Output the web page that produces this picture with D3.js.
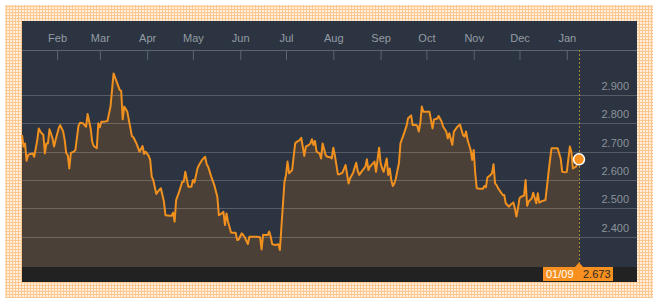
<!DOCTYPE html>
<html>
<head>
<meta charset="utf-8">
<script src="https://cdn.jsdelivr.net/npm/d3@7/dist/d3.min.js"></script>
<style>
  html, body { margin: 0; padding: 0; background: #ffffff; }
  svg { display: block; font-family: "Liberation Sans", Arial, sans-serif; }
</style>
</head>
<body>
<svg id="chart" width="660" height="304"></svg>
<script>
// ---- data ----
const dates = [
  "2015-01-09","2015-01-10","2015-01-11","2015-01-12","2015-01-13","2015-01-14","2015-01-16","2015-01-17","2015-01-19","2015-01-20",
  "2015-01-21","2015-01-23","2015-01-24","2015-01-25","2015-01-26","2015-01-27","2015-01-29","2015-01-30","2015-01-31","2015-02-02",
  "2015-02-03","2015-02-05","2015-02-06","2015-02-07","2015-02-08","2015-02-09","2015-02-10","2015-02-12","2015-02-13","2015-02-15",
  "2015-02-16","2015-02-18","2015-02-20","2015-02-21","2015-02-23","2015-02-24","2015-02-25","2015-02-27","2015-02-28","2015-03-01",
  "2015-03-02","2015-03-04","2015-03-06","2015-03-08","2015-03-10","2015-03-12","2015-03-14","2015-03-15","2015-03-16","2015-03-17",
  "2015-03-19","2015-03-20","2015-03-22","2015-03-23","2015-03-25","2015-03-27","2015-03-29","2015-03-30","2015-03-31","2015-04-02",
  "2015-04-03","2015-04-04","2015-04-05","2015-04-07","2015-04-08","2015-04-10","2015-04-12","2015-04-13","2015-04-16","2015-04-17",
  "2015-04-18","2015-04-19","2015-04-20","2015-04-22","2015-04-24","2015-04-25","2015-04-26","2015-04-28","2015-04-30","2015-05-01",
  "2015-05-02","2015-05-04","2015-05-05","2015-05-07","2015-05-09","2015-05-10","2015-05-11","2015-05-13","2015-05-15","2015-05-17",
  "2015-05-18","2015-05-20","2015-05-21","2015-05-22","2015-05-23","2015-05-24","2015-05-26","2015-05-27","2015-05-29","2015-05-30",
  "2015-05-31","2015-06-02","2015-06-03","2015-06-04","2015-06-06","2015-06-07","2015-06-10","2015-06-12","2015-06-14","2015-06-15",
  "2015-06-16","2015-06-17","2015-06-19","2015-06-20","2015-06-21","2015-06-22","2015-06-24","2015-06-26","2015-06-27","2015-06-28",
  "2015-06-30","2015-07-01","2015-07-02","2015-07-03","2015-07-05","2015-07-07","2015-07-08","2015-07-10","2015-07-11","2015-07-13",
  "2015-07-14","2015-07-16","2015-07-17","2015-07-18","2015-07-19","2015-07-20","2015-07-21","2015-07-23","2015-07-24","2015-07-25",
  "2015-07-27","2015-07-28","2015-07-30","2015-07-31","2015-08-01","2015-08-02","2015-08-04","2015-08-05","2015-08-07","2015-08-09",
  "2015-08-11","2015-08-12","2015-08-14","2015-08-16","2015-08-17","2015-08-18","2015-08-20","2015-08-22","2015-08-23","2015-08-24",
  "2015-08-25","2015-08-27","2015-08-28","2015-08-29","2015-08-30","2015-08-31","2015-09-01","2015-09-02","2015-09-03","2015-09-05",
  "2015-09-06","2015-09-07","2015-09-08","2015-09-09","2015-09-10","2015-09-11","2015-09-13","2015-09-14","2015-09-16","2015-09-18",
  "2015-09-19","2015-09-21","2015-09-22","2015-09-24","2015-09-25","2015-09-26","2015-09-27","2015-09-28","2015-09-29","2015-10-01",
  "2015-10-03","2015-10-05","2015-10-06","2015-10-08","2015-10-09","2015-10-11","2015-10-12","2015-10-14","2015-10-15","2015-10-16",
  "2015-10-18","2015-10-19","2015-10-21","2015-10-23","2015-10-25","2015-10-26","2015-10-27","2015-10-28","2015-10-30","2015-10-31",
  "2015-11-01","2015-11-02","2015-11-03","2015-11-05","2015-11-07","2015-11-08","2015-11-09","2015-11-10","2015-11-12","2015-11-13",
  "2015-11-14","2015-11-15","2015-11-16","2015-11-17","2015-11-19","2015-11-20","2015-11-21","2015-11-22","2015-11-24","2015-11-25",
  "2015-11-27","2015-11-28","2015-11-29","2015-11-30","2015-12-01","2015-12-02","2015-12-04","2015-12-05","2015-12-06","2015-12-07",
  "2015-12-09","2015-12-10","2015-12-12","2015-12-13","2015-12-14","2015-12-16","2015-12-18","2015-12-20","2015-12-21","2015-12-22",
  "2015-12-24","2015-12-26","2015-12-28","2015-12-29","2015-12-31","2016-01-01","2016-01-03","2016-01-04","2016-01-05","2016-01-07",
  "2016-01-09"
];
const values = [
  2.759,2.718,2.729,2.668,2.688,2.691,2.694,2.682,2.741,2.782,
  2.771,2.759,2.694,2.729,2.729,2.779,2.747,2.718,2.741,2.782,
  2.794,2.771,2.741,2.694,2.688,2.641,2.696,2.700,2.706,2.791,
  2.802,2.800,2.788,2.833,2.782,2.735,2.720,2.712,2.800,2.786,
  2.806,2.806,2.808,2.859,2.976,2.947,2.918,2.915,2.814,2.859,
  2.841,2.812,2.755,2.751,2.729,2.700,2.720,2.692,2.700,2.685,
  2.671,2.612,2.600,2.551,2.559,2.571,2.524,2.476,2.474,2.474,
  2.485,2.453,2.529,2.559,2.594,2.594,2.629,2.576,2.576,2.600,
  2.591,2.641,2.653,2.671,2.682,2.656,2.647,2.612,2.582,2.541,
  2.476,2.482,2.488,2.441,2.482,2.453,2.415,2.414,2.414,2.388,
  2.390,2.412,2.406,2.398,2.374,2.400,2.400,2.400,2.398,2.355,
  2.407,2.406,2.406,2.418,2.400,2.373,2.371,2.373,2.353,2.435,
  2.594,2.618,2.665,2.624,2.635,2.729,2.735,2.741,2.749,2.685,
  2.718,2.724,2.729,2.744,2.724,2.738,2.700,2.694,2.676,2.729,
  2.688,2.682,2.680,2.676,2.714,2.688,2.620,2.620,2.626,2.653,
  2.588,2.606,2.626,2.661,2.632,2.618,2.633,2.647,2.673,2.635,
  2.647,2.659,2.665,2.629,2.673,2.714,2.659,2.641,2.629,2.676,
  2.618,2.641,2.600,2.579,2.588,2.606,2.659,2.729,2.759,2.791,
  2.818,2.828,2.794,2.794,2.792,2.771,2.800,2.859,2.841,2.841,
  2.841,2.782,2.814,2.816,2.826,2.806,2.788,2.771,2.747,2.765,
  2.724,2.771,2.786,2.796,2.759,2.753,2.771,2.741,2.706,2.671,
  2.706,2.624,2.571,2.569,2.569,2.579,2.574,2.609,2.618,2.624,
  2.656,2.588,2.582,2.571,2.555,2.547,2.547,2.518,2.506,2.512,
  2.521,2.500,2.471,2.500,2.535,2.541,2.545,2.600,2.509,2.524,
  2.535,2.555,2.518,2.553,2.520,2.526,2.529,2.624,2.671,2.712,
  2.712,2.712,2.676,2.629,2.627,2.629,2.718,2.700,2.641,2.647,
  2.673
];
const yTicks = [2.4, 2.5, 2.6, 2.7, 2.8, 2.9];
const lastLabelDate = "01/09";
const lastLabelValue = "2.673";

// ---- layout ----
const panel = { x0: 22, y0: 21, x1: 637, y1: 282 };
const axisY = 50, plotBottom = 267;
const parse = d3.timeParse("%Y-%m-%d");
const data = dates.map((d, i) => ({ date: parse(d), value: values[i] }));
const lastPoint = data[data.length - 1];

const x = d3.scaleTime()
  .domain([data[0].date, lastPoint.date])
  .range([22, 579]);
const y = d3.scaleLinear()
  .domain([2.4, 2.9])
  .range([236.7, 95]);

const svg = d3.select("#chart");

// background pattern frame
const defs = svg.append("defs");
const pat = defs.append("pattern")
  .attr("id", "grid").attr("width", 3).attr("height", 3)
  .attr("patternUnits", "userSpaceOnUse");
pat.append("rect").attr("width", 3).attr("height", 3).attr("fill", "#fbc890");
pat.append("rect").attr("x", 1).attr("y", 1).attr("width", 2).attr("height", 2).attr("fill", "#ffeedd");
svg.append("rect").attr("x", 5).attr("y", 5).attr("width", 648).attr("height", 293)
  .attr("fill", "url(#grid)");

// panel
svg.append("rect")
  .attr("x", panel.x0).attr("y", panel.y0)
  .attr("width", panel.x1 - panel.x0).attr("height", panel.y1 - panel.y0)
  .attr("fill", "#2b3440");

// footer bar
svg.append("rect")
  .attr("x", panel.x0).attr("y", plotBottom)
  .attr("width", panel.x1 - panel.x0).attr("height", panel.y1 - plotBottom)
  .attr("fill", "#222222");

// area
const area = d3.area()
  .x(d => x(d.date))
  .y0(plotBottom)
  .y1(d => y(d.value));
svg.append("path").datum(data)
  .attr("d", area)
  .attr("fill", "#4a4038");

// gridlines
svg.append("g").selectAll("line").data(yTicks).join("line")
  .attr("x1", panel.x0).attr("x2", panel.x1)
  .attr("y1", d => Math.round(y(d)) + 0.5).attr("y2", d => Math.round(y(d)) + 0.5)
  .attr("stroke", "#ffffff").attr("stroke-opacity", 0.2).attr("stroke-width", 1);

// y labels
svg.append("g").selectAll("text").data(yTicks).join("text")
  .attr("x", 629).attr("y", d => y(d) - 5)
  .attr("text-anchor", "end")
  .attr("fill", "#8b939c")
  .attr("font-size", 11)
  .text(d => d3.format(".3f")(d));

// top axis
const xAxis = d3.axisBottom(x)
  .ticks(d3.timeMonth.every(1))
  .tickFormat(d3.timeFormat("%b"))
  .tickSize(10)
  .tickSizeOuter(0);
const gx = svg.append("g").attr("transform", `translate(0,${axisY})`).call(xAxis);
gx.select(".domain").remove();
gx.selectAll(".tick line").attr("stroke", "#5d656e");
gx.selectAll(".tick text")
  .attr("y", -8).attr("dy", 0)
  .attr("fill", "#959ca5")
  .attr("font-size", 11)
  .attr("font-family", "Liberation Sans, Arial, sans-serif");
svg.append("line")
  .attr("x1", panel.x0).attr("x2", panel.x1)
  .attr("y1", axisY + 0.5).attr("y2", axisY + 0.5)
  .attr("stroke", "#5d656e");

// line
const line = d3.line()
  .x(d => x(d.date))
  .y(d => y(d.value));
svg.append("path").datum(data)
  .attr("d", line)
  .attr("fill", "none")
  .attr("stroke", "#f0901e")
  .attr("stroke-width", 2)
  .attr("stroke-linejoin", "round");

// crosshair
const cx = x(lastPoint.date);
svg.append("line")
  .attr("x1", Math.round(cx) + 0.5).attr("x2", Math.round(cx) + 0.5)
  .attr("y1", axisY).attr("y2", plotBottom)
  .attr("stroke", "#a8862a").attr("stroke-dasharray", "2,2").attr("stroke-width", 1);

// dot
svg.append("circle")
  .attr("cx", cx).attr("cy", y(lastPoint.value))
  .attr("r", 5.5)
  .attr("fill", "#f7901e")
  .attr("stroke", "#ffffff").attr("stroke-width", 1.5);

// bottom label
const lab = svg.append("g");
lab.append("rect")
  .attr("x", 543).attr("y", 267).attr("width", 70).attr("height", 14)
  .attr("fill", "#f7901e");
lab.append("path")
  .attr("d", `M${cx - 4},267 L${cx},262.5 L${cx + 4},267 Z`)
  .attr("fill", "#f7901e");
lab.append("text")
  .attr("x", 546).attr("y", 278)
  .attr("fill", "#ffffff").attr("font-size", 11)
  .text(lastLabelDate);
lab.append("text")
  .attr("x", 583).attr("y", 278)
  .attr("fill", "#2a2a2a").attr("font-size", 11)
  .text(lastLabelValue);
</script>
</body>
</html>
